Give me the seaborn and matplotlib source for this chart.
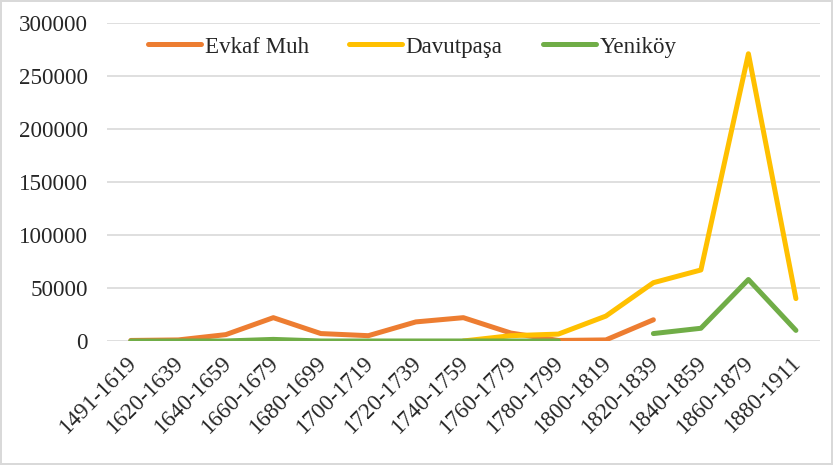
import numpy as np
import pandas as pd
import matplotlib
matplotlib.use("Agg")
import matplotlib.pyplot as plt
import matplotlib.transforms as mtransforms
import seaborn as sns
from matplotlib.lines import Line2D

categories = ["1491-1619", "1620-1639", "1640-1659", "1660-1679", "1680-1699",
              "1700-1719", "1720-1739", "1740-1759", "1760-1779", "1780-1799",
              "1800-1819", "1820-1839", "1840-1859", "1860-1879", "1880-1911"]
nan = np.nan
evkaf_muh = [500, 1000, 6000, 22000, 7000, 5000, 18000, 22000, 7500, 500,
             1000, 20000, nan, nan, nan]
davutpasa = [nan, nan, nan, nan, nan, nan, nan, 0, 5000, 6500,
             23500, 55000, 67000, 271000, 40000]
yenikoy = [0, 0, 0, 1500, 0, 0, 0, 0, 0, 0,
           nan, 7000, 12000, 58000, 10000]
series_names = ["Evkaf Muh", "Davutpaşa", "Yeniköy"]
series_values = [evkaf_muh, davutpasa, yenikoy]
colors = ["#ED7D31", "#FFC000", "#70AD47"]

rows = []
for name, vals in zip(series_names, series_values):
    seg = 0
    prev_nan = True
    for i, v in enumerate(vals):
        if np.isnan(v):
            prev_nan = True
            continue
        if prev_nan:
            seg += 1
            prev_nan = False
        rows.append({"idx": i, "value": v, "series": name, "segment": f"{name}_{seg}"})
df = pd.DataFrame(rows)

sns.set_theme(style="white")
plt.rcParams["font.family"] = ["Liberation Serif", "DejaVu Serif"]

fig = plt.figure(figsize=(8.33, 4.65), dpi=100)
fig.patch.set_edgecolor("#d9d9d9")
fig.patch.set_linewidth(1.5)
ax = fig.add_axes([0.1285, 0.2667, 0.8555, 0.6838])

sns.lineplot(data=df, x="idx", y="value", hue="series", units="segment",
             estimator=None, hue_order=series_names, palette=colors,
             linewidth=3.6, ax=ax, legend=False, solid_capstyle="round")

fs = 16.6
ax.set_xlim(-0.5, len(categories) - 0.5)
ax.set_ylim(0, 300000)
ax.set_yticks(np.arange(0, 300001, 50000))
ax.set_yticklabels([str(v) for v in range(0, 300001, 50000)], fontsize=fs, color="#262626")
ax.set_xticks(range(len(categories)))
ax.set_xticklabels(categories, rotation=45, ha="right", rotation_mode="anchor",
                   fontsize=fs, color="#262626")
ax.tick_params(axis="y", length=0, pad=14)
ax.tick_params(axis="x", length=0, pad=10)
offset = mtransforms.ScaledTranslation(-0.05, 0.03, fig.dpi_scale_trans)
for lab in ax.get_xticklabels():
    lab.set_transform(lab.get_transform() + offset)
ax.yaxis.grid(True, color="#d9d9d9", linewidth=1.2)
ax.set_axisbelow(True)
for s in ax.spines.values():
    s.set_visible(False)
ax.set_xlabel("")
ax.set_ylabel("")

handles = [Line2D([0], [0], color=c, linewidth=3.6, solid_capstyle="round") for c in colors]
fig.legend(handles, series_names, loc="center", bbox_to_anchor=(0.495, 0.899),
           ncol=3, frameon=False, fontsize=fs, handlelength=2.3, handletextpad=0.15,
           columnspacing=1.75, labelcolor="#262626")

fig.savefig("out.png", dpi=100)
